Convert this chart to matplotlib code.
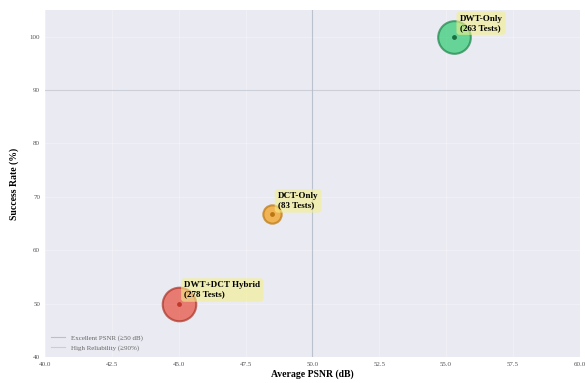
import matplotlib
matplotlib.use("Agg")
import matplotlib.pyplot as plt
import numpy as np

methods = ["DWT+DCT Hybrid", "DCT-Only", "DWT-Only"]
test_counts = [278, 83, 263]
avg_psnr = [45.0, 48.5, 55.3]
success_rate = [50.0, 66.7, 100.0]
fill_colors = ["#e74c3c", "#f39c12", "#2ecc71"]
edge_colors = ["#a93226", "#b9770e", "#1e8449"]
dot_colors = ["#c0392b", "#b9770e", "#196f3d"]

plt.rcParams["font.family"] = ["Liberation Serif", "DejaVu Serif"]

fig = plt.figure(figsize=(5.85, 3.83), dpi=100)
ax = fig.add_axes([0.077, 0.068, 0.914, 0.906])
ax.set_facecolor("#eaeaf2")
for s in ax.spines.values():
    s.set_visible(False)
ax.grid(True, color="white", linewidth=0.6, alpha=0.3)
ax.set_axisbelow(True)

ax.axvline(50, color="#9aa3b5", linestyle="-", linewidth=0.8, alpha=0.6,
           label="Excellent PSNR (≥50 dB)")
ax.axhline(90, color="#b5bac6", linestyle="-", linewidth=0.8, alpha=0.6,
           label="High Reliability (≥90%)")

for m, n, x, y, fc, ec, dc in zip(methods, test_counts, avg_psnr, success_rate,
                                  fill_colors, edge_colors, dot_colors):
    ax.scatter(x, y, s=n * 2.1, color=fc, alpha=0.7, edgecolors=ec,
               linewidths=1.5, zorder=3)
    ax.scatter(x, y, s=6, color=dc, zorder=4)
    ax.annotate(f"{m}\n({n} Tests)", (x, y), xytext=(4, 5),
                textcoords="offset points", fontsize=6.5, fontweight="bold",
                bbox=dict(boxstyle="round,pad=0.35", fc="#f4f08a", ec="none",
                          alpha=0.6), zorder=5)

ax.set_xlim(40, 60)
ax.set_ylim(40, 105)
ax.set_xticks(np.arange(40, 60.1, 2.5))
ax.set_xticklabels([f"{v:.1f}" for v in np.arange(40, 60.1, 2.5)])
ax.set_yticks(np.arange(40, 101, 10))
ax.tick_params(labelsize=5, colors="#555555", length=0)
ax.set_xlabel("Average PSNR (dB)", fontsize=7, fontweight="bold", labelpad=2)
ax.set_ylabel("Success Rate (%)", fontsize=7, fontweight="bold", labelpad=8)

leg = ax.legend(loc="lower left", fontsize=5, frameon=True, framealpha=0.3,
                edgecolor="none", facecolor="#eaeaf2")
for t in leg.get_texts():
    t.set_color("#666666")

fig.savefig("out.png", dpi=100)
